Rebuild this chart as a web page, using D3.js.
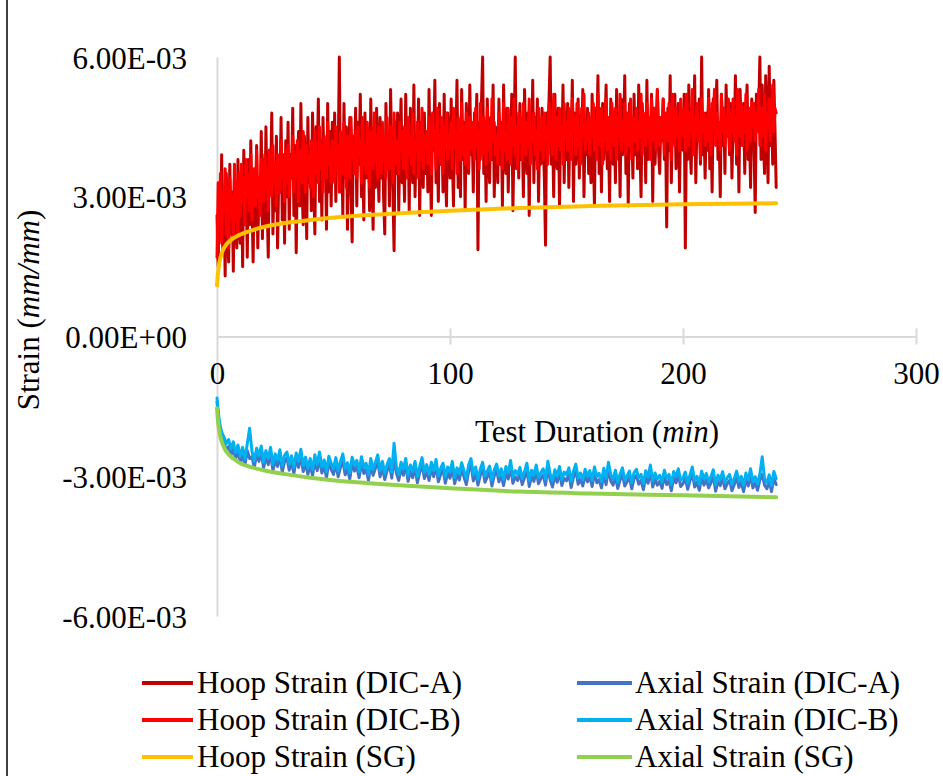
<!DOCTYPE html>
<html>
<head>
<meta charset="utf-8">
<script src="https://cdn.jsdelivr.net/npm/d3@7"></script>
<style>
  html, body { margin: 0; padding: 0; background: #fff; }
  svg { display: block; font-family: "Liberation Serif", "Times New Roman", serif; }
</style>
</head>
<body>
<svg id="chart" width="943" height="776"></svg>
<script>
// Strain values are stored in units of 1e-5 mm/mm.
const UNIT = 1e-5;

// DIC hoop readings, one sample every half minute from 0 to 240 min (one row = 10 min).
const hoopStep = 0.5;
const hoopDicA = [
  260,150,330,210,390,180,300,130,350,240,160,370,220,310,140,340,260,190,380,230,
  200,360,150,400,270,330,170,380,240,420,290,160,350,230,410,190,320,270,440,210,
  380,240,450,290,170,400,330,480,220,360,270,430,190,350,310,470,250,390,200,420,
  300,460,230,390,340,490,260,410,180,370,440,280,500,320,240,430,360,210,470,330,
  400,270,480,330,220,450,370,510,290,420,250,470,340,390,230,500,310,440,280,460,
  350,480,290,440,380,600,310,420,260,500,340,450,230,390,470,320,203,430,360,490,
  280,460,370,520,300,410,250,480,340,440,390,270,510,360,230,450,320,490,380,290,
  470,340,420,300,220,500,360,440,280,530,390,310,184,460,350,480,270,420,510,330,
  400,290,520,360,450,270,490,380,330,540,300,430,370,510,260,460,390,320,480,350,
  440,310,530,380,260,470,400,550,330,420,290,500,370,450,310,520,360,280,480,410,
  340,510,390,280,470,420,550,320,440,300,530,380,460,270,500,410,350,540,390,450,
  310,480,420,520,186,460,380,500,600,350,440,290,510,400,330,470,380,540,300,450,
  420,330,510,370,460,280,540,400,350,490,310,450,390,520,270,430,600,360,470,340,
  500,380,440,300,530,410,350,480,260,460,400,550,330,470,380,510,290,440,370,490,
  420,340,196,480,390,510,600,370,450,300,520,410,360,490,280,460,400,540,330,470,
  380,500,320,460,410,550,290,480,370,440,510,340,470,400,530,300,450,390,490,350,
  460,330,520,400,280,490,420,560,350,470,310,500,380,450,540,360,430,290,510,410,
  370,480,330,530,420,460,300,510,390,440,560,350,470,280,500,410,450,340,520,390,
  480,360,540,410,300,500,430,470,330,550,380,460,410,520,290,490,370,450,530,400,
  350,470,420,510,380,450,235,490,400,560,330,480,440,520,360,410,500,310,470,430,
  400,520,190,460,380,540,420,350,490,410,560,330,470,440,510,370,600,390,450,340,
  480,400,530,360,460,310,510,420,470,550,380,440,300,520,410,490,350,540,430,460,
  390,500,340,460,420,560,370,480,310,530,440,410,500,350,470,540,380,450,320,510,
  470,400,266,520,440,490,600,380,540,420,350,560,460,330,580,410,500,370,550,440,
  320
];
const hoopDicB = [
  170,330,240,350,200,310,270,360,220,320,190,340,260,300,210,370,250,330,220,350,
  260,370,290,340,240,380,300,350,270,390,250,330,360,280,400,300,340,260,380,310,
  290,390,320,360,270,400,340,300,410,330,370,280,390,350,310,420,340,380,290,400,
  330,410,300,380,350,430,310,390,340,420,290,370,400,330,440,360,310,410,350,390,
  320,420,370,300,440,350,390,330,450,360,410,310,430,380,340,460,370,400,330,420,
  380,330,450,360,410,310,440,390,350,460,370,320,430,400,340,470,380,420,350,440,
  340,450,390,420,330,470,370,410,350,460,390,320,440,400,360,480,380,430,340,450,
  400,350,460,380,430,340,470,390,360,450,410,330,480,370,420,390,350,460,400,440,
  360,450,400,340,470,390,430,370,480,350,420,400,460,340,440,380,490,360,430,410,
  440,370,470,400,350,480,410,440,360,490,390,430,370,470,350,450,410,480,380,430,
  400,460,360,490,410,440,350,470,420,380,500,390,450,370,480,410,360,470,430,400,
  460,380,490,410,440,360,500,420,390,470,430,370,490,400,450,380,510,420,460,390,
  430,370,480,410,450,360,500,400,440,380,490,420,370,470,410,510,390,450,360,480,
  420,470,380,500,430,390,460,410,510,370,450,420,480,390,440,360,490,430,400,470,
  380,480,420,450,370,500,410,460,390,520,430,380,470,410,490,400,450,370,500,430,
  460,400,490,420,380,510,440,470,390,500,410,450,370,490,430,520,400,460,420,480,
  390,470,430,500,400,460,380,520,440,410,490,370,460,420,510,400,470,430,380,500,
  450,410,490,380,470,430,520,400,460,420,500,390,480,440,410,510,380,470,450,420,
  490,400,460,430,520,390,480,440,410,500,430,470,380,510,450,420,490,400,530,440,
  410,470,430,510,390,480,450,420,500,440,380,520,460,410,490,430,470,400,510,450,
  430,490,400,520,450,410,480,440,530,390,470,430,500,420,460,380,510,440,480,410,
  470,420,510,440,390,500,450,530,410,480,430,460,400,520,440,490,410,470,430,510,
  400,480,440,510,420,470,390,530,450,430,500,410,480,440,520,400,460,490,420,500,
  450,500,420,480,440,530,410,490,460,430,520,400,480,450,510,420,470,540,440,490,
  480
];

// Strain gauge hoop reading (min, value).
const hoopSgTime = [0,0.5,1,2,3,5,7,10,15,20,30,40,60,80,100,130,160,200,240];
const hoopSg     = [110,140,158,178,190,203,211,219,228,235,244,250,259,265,270,276,280,284,286];

// DIC axial readings, one sample per minute from 0 to 240 min (one row = 10 min).
const axialStep = 1;
const axialDicA = [
  -140,-195,-218,-230,-243,-236,-255,-241,-262,-247,
  -270,-252,-276,-245,-262,-258,-281,-253,-268,-249,
  -282,-258,-275,-251,-288,-266,-279,-256,-291,-268,
  -261,-287,-270,-294,-263,-281,-256,-290,-272,-296,
  -275,-299,-267,-288,-262,-293,-278,-303,-270,-285,
  -296,-273,-301,-281,-266,-297,-284,-306,-272,-289,
  -279,-303,-271,-294,-285,-309,-275,-298,-283,-268,
  -301,-281,-307,-288,-275,-304,-262,-293,-309,-283,
  -298,-275,-311,-289,-303,-281,-314,-292,-273,-305,
  -288,-309,-283,-301,-277,-312,-296,-285,-315,-293,
  -304,-281,-316,-295,-308,-284,-301,-318,-289,-275,
  -310,-293,-319,-298,-283,-313,-302,-291,-321,-299,
  -287,-312,-297,-320,-292,-306,-279,-315,-301,-309,
  -294,-318,-303,-285,-322,-300,-311,-289,-316,-305,
  -297,-319,-281,-308,-323,-299,-313,-292,-320,-304,
  -310,-295,-324,-302,-287,-317,-306,-321,-298,-312,
  -301,-322,-293,-314,-307,-325,-296,-318,-283,-310,
  -319,-300,-326,-308,-295,-321,-312,-302,-327,-305,
  -298,-317,-309,-329,-301,-315,-289,-323,-306,-319,
  -311,-326,-300,-318,-309,-331,-303,-314,-297,-322,
  -316,-304,-328,-310,-293,-323,-313,-330,-302,-319,
  -307,-325,-314,-299,-332,-311,-320,-303,-327,-316,
  -309,-331,-318,-302,-324,-313,-333,-306,-321,-297,
  -325,-314,-330,-308,-296,-319,-327,-310,-333,-303,
  -318
];
const axialDicB = [
  -132,-182,-205,-216,-230,-221,-242,-226,-249,-233,
  -258,-238,-264,-230,-197,-246,-268,-240,-256,-235,
  -270,-245,-262,-238,-275,-252,-266,-243,-278,-255,
  -248,-274,-256,-281,-250,-268,-242,-277,-259,-283,
  -262,-286,-254,-275,-248,-280,-265,-290,-257,-272,
  -283,-260,-288,-268,-252,-284,-271,-293,-259,-276,
  -266,-290,-258,-281,-272,-296,-262,-285,-270,-254,
  -288,-268,-294,-275,-262,-291,-229,-280,-296,-270,
  -285,-262,-298,-276,-290,-268,-301,-279,-260,-292,
  -275,-296,-270,-288,-264,-299,-283,-272,-302,-280,
  -291,-268,-303,-282,-295,-271,-288,-305,-276,-262,
  -297,-280,-306,-285,-270,-300,-289,-278,-308,-286,
  -274,-299,-284,-307,-279,-293,-266,-302,-288,-296,
  -281,-305,-290,-272,-309,-287,-298,-276,-303,-292,
  -284,-306,-268,-295,-310,-286,-300,-279,-307,-291,
  -297,-282,-311,-289,-274,-304,-293,-308,-285,-299,
  -288,-309,-280,-301,-294,-312,-283,-305,-270,-297,
  -306,-287,-313,-295,-282,-308,-299,-289,-314,-292,
  -285,-304,-296,-316,-288,-302,-276,-310,-293,-306,
  -298,-313,-287,-305,-296,-318,-290,-301,-284,-309,
  -303,-291,-315,-297,-280,-310,-300,-317,-289,-306,
  -294,-312,-301,-286,-319,-298,-307,-290,-314,-303,
  -296,-318,-305,-289,-311,-300,-320,-293,-308,-284,
  -312,-301,-317,-295,-258,-306,-314,-297,-320,-290,
  -305
];

// Strain gauge axial reading (min, value).
const axialSgTime = [0,0.5,1,2,3,5,7,10,15,20,30,40,60,80,100,130,160,200,240];
const axialSg     = [-154,-185,-203,-225,-238,-253,-262,-272,-281,-287,-296,-303,-313,-320,-326,-333,-337,-341,-345];

const xTicks = [0, 100, 200, 300];
const yTicks = [-6e-3, -3e-3, 0, 3e-3, 6e-3];

const seriesNames = [
  "Hoop Strain (DIC-A)", "Hoop Strain (DIC-B)", "Hoop Strain (SG)",
  "Axial Strain (DIC-A)", "Axial Strain (DIC-B)", "Axial Strain (SG)"
];
const seriesColors = ["#C00000", "#FF0000", "#FFC000", "#4472C4", "#00B0F0", "#92D050"];

// ---- build point lists ----
const sampled = (vals, step) => vals.map((v, i) => [i * step, v * UNIT]);
const paired = (ts, vals) => ts.map((t, i) => [t, vals[i] * UNIT]);

const series = [
  { pts: sampled(hoopDicA, hoopStep), smooth: false, w: 3 },
  { pts: sampled(hoopDicB, hoopStep), smooth: false, w: 3 },
  { pts: paired(hoopSgTime, hoopSg), smooth: true, w: 4 },
  { pts: sampled(axialDicA, axialStep), smooth: false, w: 3 },
  { pts: sampled(axialDicB, axialStep), smooth: false, w: 3 },
  { pts: paired(axialSgTime, axialSg), smooth: true, w: 4 }
];

const svg = d3.select("#chart");
const FONT = 31;

const x = d3.scaleLinear().domain([0, 300]).range([217, 916]);
const y = d3.scaleLinear().domain([-6e-3, 6e-3]).range([616, 57]);

// left page rule
svg.append("line")
  .attr("x1", 7).attr("x2", 7).attr("y1", 0).attr("y2", 776)
  .attr("stroke", "#000").attr("stroke-width", 1.5);

// exponent-style labels such as 6.00E-03
function sci(v) {
  if (v === 0) return "0.00E+00";
  const e = Math.floor(Math.log10(Math.abs(v)) + 1e-9);
  const m = v / Math.pow(10, e);
  const es = (e < 0 ? "-" : "+") + String(Math.abs(e)).padStart(2, "0");
  return m.toFixed(2) + "E" + es;
}

// y axis
const yAxis = svg.append("g")
  .attr("transform", `translate(${x(0)},0)`)
  .call(d3.axisLeft(y).tickValues(yTicks).tickSize(0).tickFormat(sci));
yAxis.attr("font-size", null).attr("font-family", null);
yAxis.select(".domain").attr("stroke", "#D9D9D9").attr("stroke-width", 2);
yAxis.selectAll(".tick text")
  .attr("x", -30).attr("dy", null).attr("y", 11)
  .attr("text-anchor", "end")
  .attr("font-size", FONT).attr("fill", "#000");

// x axis along zero strain
const xAxis = svg.append("g")
  .attr("transform", `translate(0,${y(0)})`)
  .call(d3.axisBottom(x).tickValues(xTicks).tickSizeOuter(0).tickFormat(d3.format("d")));
xAxis.attr("font-size", null).attr("font-family", null);
xAxis.select(".domain").attr("stroke", "#D9D9D9").attr("stroke-width", 2);
xAxis.selectAll(".tick line")
  .attr("y1", -8).attr("y2", 8)
  .attr("stroke", "#D9D9D9").attr("stroke-width", 2);
xAxis.selectAll(".tick").filter(d => d === 0).select("line").remove();
xAxis.selectAll(".tick text")
  .attr("dy", null).attr("y", 47)
  .attr("text-anchor", "middle")
  .attr("font-size", FONT).attr("fill", "#000");

// data lines
const plot = svg.append("g").attr("fill", "none");
series.forEach((s, i) => {
  const gen = d3.line()
    .x(d => x(d[0])).y(d => y(d[1]))
    .curve(s.smooth ? d3.curveMonotoneX : d3.curveLinear);
  plot.append("path")
    .attr("d", gen(s.pts))
    .attr("stroke", seriesColors[i])
    .attr("stroke-width", s.w)
    .attr("stroke-linejoin", "round")
    .attr("stroke-linecap", "round");
});

// axis titles
const xt = svg.append("text")
  .attr("x", 597).attr("y", 442)
  .attr("text-anchor", "middle").attr("font-size", FONT).attr("fill", "#000");
xt.append("tspan").text("Test Duration (");
xt.append("tspan").attr("font-style", "italic").text("min");
xt.append("tspan").text(")");

const yt = svg.append("text")
  .attr("transform", "translate(39,310) rotate(-90)")
  .attr("text-anchor", "middle").attr("font-size", FONT).attr("fill", "#000");
yt.append("tspan").text("Strain (");
yt.append("tspan").attr("font-style", "italic").text("mm/mm");
yt.append("tspan").text(")");

// legend: hoop series on the left, axial on the right
const legendRows = [683, 720, 757];
const legendCols = [{ x0: 142, x1: 193, tx: 197 }, { x0: 577, x1: 632, tx: 635 }];
seriesNames.forEach((name, i) => {
  const col = legendCols[Math.floor(i / 3)];
  const ry = legendRows[i % 3];
  svg.append("line")
    .attr("x1", col.x0).attr("x2", col.x1).attr("y1", ry).attr("y2", ry)
    .attr("stroke", seriesColors[i]).attr("stroke-width", 4);
  svg.append("text")
    .attr("x", col.tx).attr("y", ry + 10)
    .attr("font-size", FONT).attr("fill", "#000")
    .text(name);
});
</script>
</body>
</html>
